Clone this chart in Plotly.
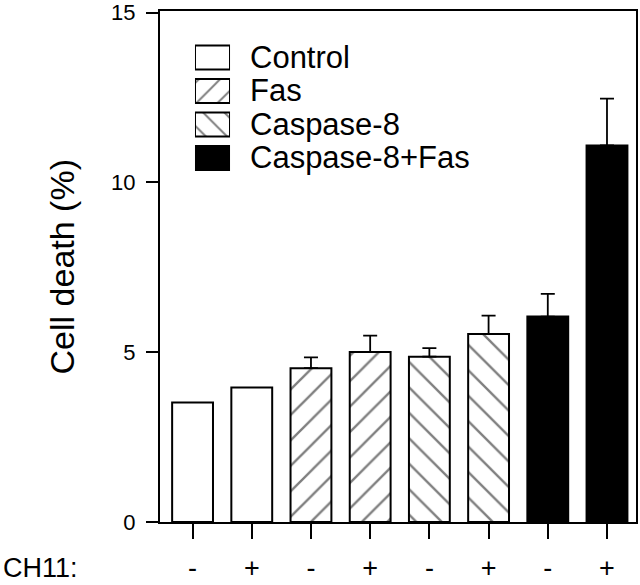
import plotly.graph_objects as go

# ---------------- dados ----------------
grupos = ["Control", "Fas", "Caspase-8", "Caspase-8+Fas"]
ch11 = ["-", "+", "-", "+", "-", "+", "-", "+"]
grupo_da_barra = ["Control", "Control", "Fas", "Fas",
                  "Caspase-8", "Caspase-8", "Caspase-8+Fas", "Caspase-8+Fas"]
morte_celular = [3.52, 3.96, 4.53, 5.01, 4.87, 5.54, 6.05, 11.09]
erro = [0, 0, 0.32, 0.48, 0.25, 0.54, 0.67, 1.38]
y_ticks = [0, 5, 10, 15]

FONTE = "Liberation Sans, Arial, Helvetica, sans-serif"

# estilo de cada grupo: (cor de fundo, padrão)
estilo = {
    "Control": ("white", ""),
    "Fas": ("white", "/"),
    "Caspase-8": ("white", "\\"),
    "Caspase-8+Fas": ("black", ""),
}

fig = go.Figure()

# barras principais
for g in grupos:
    idx = [i for i, gb in enumerate(grupo_da_barra) if gb == g]
    cor, padrao = estilo[g]
    erros_g = [erro[i] for i in idx]
    fig.add_trace(go.Bar(
        x=idx,
        y=[morte_celular[i] for i in idx],
        width=0.69,
        marker=dict(
            color=cor,
            line=dict(color="black", width=2),
            pattern=dict(shape=padrao, fgcolor="black", bgcolor=cor,
                         size=18, solidity=0.13),
        ),
        error_y=dict(
            type="data", symmetric=False,
            array=erros_g,
            arrayminus=[0] * len(idx),
            color="black", thickness=1.8, width=7,
            visible=any(e > 0 for e in erros_g),
        ),
        showlegend=False,
    ))

# legenda desenhada como um pequeno gráfico de barras horizontais
for k, g in enumerate(grupos):
    cor, padrao = estilo[g]
    fig.add_trace(go.Bar(
        x=[1], y=[k], orientation="h", width=0.72,
        xaxis="x2", yaxis="y2",
        marker=dict(
            color=cor,
            line=dict(color="black", width=2),
            pattern=dict(shape=padrao, fgcolor="black", bgcolor=cor,
                         size=15, solidity=0.13),
        ),
        showlegend=False, hoverinfo="skip",
    ))
    fig.add_annotation(
        x=0.185, xref="paper", y=k, yref="y2",
        text=g, showarrow=False, xanchor="left", yanchor="middle",
        font=dict(family=FONTE, size=31, color="black"),
    )

fig.update_layout(
    width=640, height=585,
    margin=dict(l=160, r=4, t=11, b=63),
    plot_bgcolor="white", paper_bgcolor="white",
    barmode="overlay",
    font=dict(family=FONTE, color="black"),
    xaxis=dict(
        range=[-0.55, 7.49],
        tickmode="array", tickvals=list(range(8)), ticktext=ch11,
        ticks="outside", ticklen=15, tickwidth=2, tickcolor="black",
        tickfont=dict(size=27),
        showline=True, linewidth=2, linecolor="black", mirror=True,
        showgrid=False, zeroline=False, automargin=False,
        ticklabelstandoff=6,
    ),
    yaxis=dict(
        range=[0, 15.05],
        tickmode="array", tickvals=y_ticks,
        ticks="outside", ticklen=12, tickwidth=2, tickcolor="black",
        tickfont=dict(size=22),
        showline=True, linewidth=2, linecolor="black", mirror=True,
        showgrid=False, zeroline=False, automargin=False,
        ticklabelstandoff=6,
    ),
    xaxis2=dict(domain=[0.0735, 0.1471], range=[0, 1], anchor="y2",
                visible=False, fixedrange=True),
    yaxis2=dict(domain=[0.6796, 0.9418], range=[3.5, -0.5], anchor="x2",
                visible=False, fixedrange=True),
)

# título do eixo y e rótulo CH11
fig.add_annotation(
    x=-0.206, xref="paper", y=0.5, yref="paper",
    text="Cell death (%)", textangle=-90, showarrow=False,
    xanchor="center", yanchor="middle",
    font=dict(family=FONTE, size=34, color="black"),
)
fig.add_annotation(
    x=-0.335, xref="paper", y=-0.09, yref="paper",
    text="CH11:", showarrow=False, xanchor="left", yanchor="middle",
    font=dict(family=FONTE, size=27, color="black"),
)

# sem a margem padrão do <body>, a figura fica alinhada à janela
fig.write_html("out.html", config={"displayModeBar": False},
               post_script="document.body.style.margin='0px';")
